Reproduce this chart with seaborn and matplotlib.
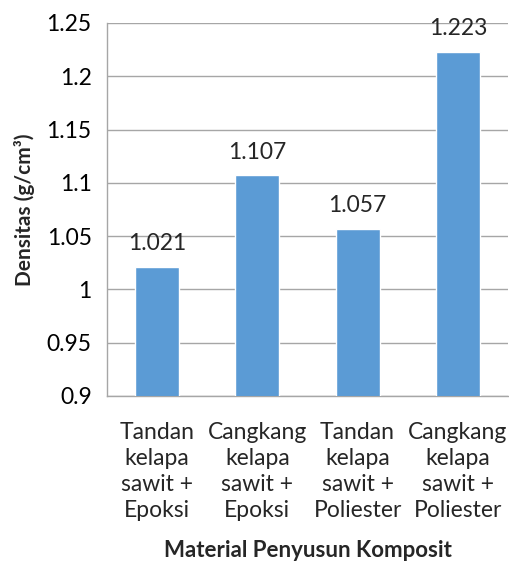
import matplotlib
matplotlib.use("Agg")
import matplotlib.pyplot as plt
import seaborn as sns
import pandas as pd

categories = ["Tandan\nkelapa\nsawit +\nEpoksi",
              "Cangkang\nkelapa\nsawit +\nEpoksi",
              "Tandan\nkelapa\nsawit +\nPoliester",
              "Cangkang\nkelapa\nsawit +\nPoliester"]
densitas = [1.021, 1.107, 1.057, 1.223]
value_labels = ["1.021", "1.107", "1.057", "1.223"]
yticks = [0.9, 0.95, 1.0, 1.05, 1.1, 1.15, 1.2, 1.25]
ytick_labels = ["0.9", "0.95", "1", "1.05", "1.1", "1.15", "1.2", "1.25"]

sns.set_style("white")
plt.rcParams['font.family'] = ['Lato', 'DejaVu Sans']

df = pd.DataFrame({"cat": categories, "val": densitas})

fig = plt.figure(figsize=(5.09, 5.63), dpi=100)
ax = fig.add_axes([107/509, 1-396/563, (508-107)/509, (396-23)/563])

sns.barplot(data=df, x="cat", y="val", color="#5B9BD5", width=0.44,
            saturation=1, ax=ax, zorder=3)

ax.set_ylim(0.9, 1.25)
ax.set_yticks(yticks)
ax.set_yticklabels(ytick_labels, fontsize=16.5)
ax.yaxis.grid(True, color="#A6A6A6", linewidth=1, zorder=0)
ax.set_axisbelow(True)
ax.tick_params(axis="y", length=6, color="#A6A6A6", width=1, pad=5, labelcolor="black")
ax.tick_params(axis="x", length=0, pad=19, labelsize=16.5)
for lbl in ax.get_xticklabels():
    lbl.set_linespacing(1.28)

for s in ["top", "right"]:
    ax.spines[s].set_visible(False)
for s in ["left", "bottom"]:
    ax.spines[s].set_color("#A6A6A6")
    ax.spines[s].set_linewidth(1)

for i, (v, t) in enumerate(zip(densitas, value_labels)):
    ax.text(i, v + 0.012, t, ha="center", va="bottom", fontsize=16.5)

ax.set_xlabel("Material Penyusun Komposit", fontsize=16, fontweight="bold", labelpad=14)
ax.set_ylabel("Densitas (g/cm³)", fontsize=15, fontweight="bold", labelpad=8)

fig.savefig("out.png", dpi=100)
